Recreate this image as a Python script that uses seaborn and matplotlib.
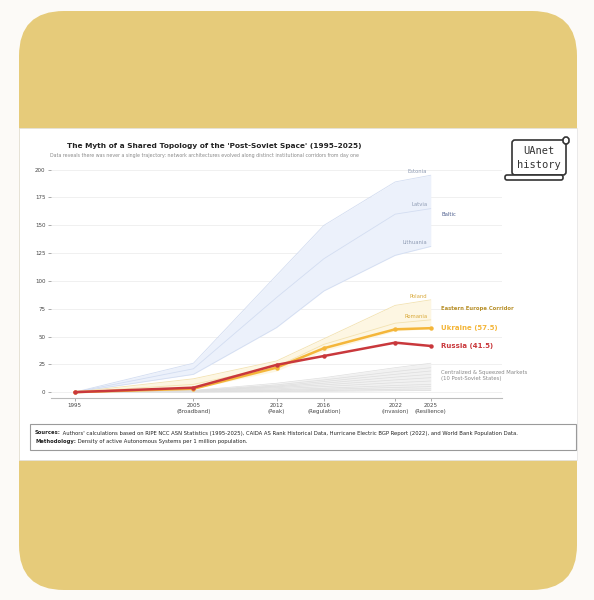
import matplotlib.pyplot as plt
from matplotlib.patches import FancyBboxPatch, Rectangle
import seaborn as sns
import numpy as np

# --- data ---
years = [1995, 2005, 2012, 2016, 2022, 2025]
tick_labels = ['1995', '2005\n(Broadband)', '2012\n(Peak)', '2016\n(Regulation)',
               '2022\n(Invasion)', '2025\n(Resilience)']

estonia = [0, 26, 105, 150, 189, 195]
latvia = [0, 21, 85, 120, 160, 165]
lithuania = [0, 16, 58, 91, 123, 131]

poland = [0, 12, 28, 48, 78, 83]
romania = [0, 7, 23, 43, 62, 65]
ee_lower = [0, 3, 19, 37, 55, 57]

ukraine = [0, 3, 22, 39.5, 56.5, 57.5]
russia = [0, 4, 24.5, 32.5, 44.5, 41.5]

squeezed_names = ['Moldova', 'Georgia', 'Armenia', 'Kazakhstan', 'Belarus',
                  'Azerbaijan', 'Kyrgyzstan', 'Uzbekistan', 'Tajikistan', 'Turkmenistan']
squeezed = [
    [0, 1.6, 8, 13, 22, 26],
    [0, 1.3, 6.5, 11, 18.5, 22],
    [0, 1.1, 5.5, 9.5, 16, 19],
    [0, 1.0, 4.8, 8, 13.5, 16],
    [0, 0.8, 4, 6.5, 11, 13],
    [0, 0.6, 3, 5, 8.5, 10],
    [0, 0.4, 2.1, 3.5, 6, 7],
    [0, 0.3, 1.5, 2.5, 4.2, 5],
    [0, 0.2, 0.9, 1.5, 2.6, 3],
    [0, 0.1, 0.5, 0.8, 1.3, 1.5],
]

BLUE_FILL = '#ECF1FB'
BLUE_LINE = '#D3DDF1'
BLUE_TXT = '#8E9BB3'
GOLD_FILL = '#FDF6E2'
GOLD_LINE = '#F3E2B0'
GOLD_TXT = '#D9A93A'
UKR = '#F4B63A'
RUS = '#C9383C'

sns.set_theme(style='whitegrid')
plt.rcParams['font.family'] = ['DejaVu Sans']

fig = plt.figure(figsize=(5.94, 6.0), dpi=100)
fig.patch.set_facecolor('#FCFAF7')

# background frame drawn in pixel coordinates
bg = fig.add_axes([0, 0, 1, 1], zorder=0)
bg.set_xlim(0, 594)
bg.set_ylim(600, 0)
bg.axis('off')
bg.add_patch(FancyBboxPatch((19, 11), 558, 579,
                            boxstyle='round,pad=0,rounding_size=45',
                            fc='#E6CB7A', ec='none'))
bg.add_patch(Rectangle((19, 128), 558, 332, fc='white', ec='#E2E2E2', lw=0.5))

# logo
bg.add_patch(FancyBboxPatch((512, 140), 54, 35, boxstyle='round,pad=0,rounding_size=3',
                            fc='white', ec='#333333', lw=1.2))
bg.add_patch(FancyBboxPatch((505, 175), 58, 5, boxstyle='round,pad=0,rounding_size=2',
                            fc='white', ec='#333333', lw=1.2))
bg.add_patch(FancyBboxPatch((563, 137), 6, 7, boxstyle='round,pad=0,rounding_size=3',
                            fc='white', ec='#333333', lw=1.2))
bg.text(539, 151, 'UAnet', ha='center', va='center', fontsize=7.5,
        family='DejaVu Sans Mono', color='#333333')
bg.text(539, 165, 'history', ha='center', va='center', fontsize=7.5,
        family='DejaVu Sans Mono', color='#333333')

# sources box
fs = 3.75
bg.add_patch(Rectangle((30, 424), 546, 26, fc='none', ec='#9A9A9A', lw=0.8))
t1 = bg.text(35, 433, 'Sources:', fontsize=fs, fontweight='bold', color='#222222', va='center')
bg.annotate(" Authors' calculations based on RIPE NCC ASN Statistics (1995-2025), CAIDA AS Rank "
            "Historical Data, Hurricane Electric BGP Report (2022), and World Bank Population Data.",
            xy=(1, 0), xycoords=t1, va='bottom', fontsize=fs, color='#222222')
t2 = bg.text(35, 441, 'Methodology:', fontsize=fs, fontweight='bold', color='#222222', va='center')
bg.annotate(' Density of active Autonomous Systems per 1 million population.',
            xy=(1, 0), xycoords=t2, va='bottom', fontsize=fs, color='#222222')

fig.text(214 / 594, 1 - 146 / 600,
         "The Myth of a Shared Topology of the 'Post-Soviet Space' (1995\u20132025)",
         ha='center', va='center', fontsize=5.3, fontweight='bold', color='#222222')
fig.text(205 / 594, 1 - 155.5 / 600,
         'Data reveals there was never a single trajectory: network architectures evolved '
         'along distinct institutional corridors from day one',
         ha='center', va='center', fontsize=3.4, color='#8A8A8A')

# main chart
ax = fig.add_axes([51 / 594, 202.3 / 600, 451 / 594, 233.6 / 600], zorder=1)
ax.set_facecolor('white')

# Baltic corridor
ax.fill_between(years, lithuania, estonia, color=BLUE_FILL, lw=0, zorder=1)
for s in (estonia, latvia, lithuania):
    sns.lineplot(x=years, y=s, ax=ax, color=BLUE_LINE, lw=0.6, zorder=2)

# Eastern Europe corridor
ax.fill_between(years, ee_lower, poland, color=GOLD_FILL, lw=0, zorder=1)
for s in (poland, romania):
    sns.lineplot(x=years, y=s, ax=ax, color=GOLD_LINE, lw=0.6, zorder=2)

# squeezed markets
sq = np.array(squeezed)
ax.fill_between(years, sq.min(axis=0), sq.max(axis=0), color='#F1F1F1', lw=0, zorder=1)
for name, s in zip(squeezed_names, squeezed):
    sns.lineplot(x=years, y=s, ax=ax, color='#DEDEDE', lw=0.5, zorder=2)

# highlighted countries
sns.lineplot(x=years, y=ukraine, ax=ax, color=UKR, lw=1.8, marker='o',
             markersize=3.2, markeredgewidth=0, zorder=4)
sns.lineplot(x=years, y=russia, ax=ax, color=RUS, lw=1.8, marker='o',
             markersize=3.2, markeredgewidth=0, zorder=5)

# labels on the right
lx = 2024.7
ax.text(lx, estonia[-1] + 1, 'Estonia', ha='right', va='bottom', fontsize=3.8, color=BLUE_TXT)
ax.text(lx, latvia[-1] + 1, 'Latvia', ha='right', va='bottom', fontsize=3.8, color=BLUE_TXT)
ax.text(lx, lithuania[-1] + 1, 'Lithuania', ha='right', va='bottom', fontsize=3.8, color=BLUE_TXT)
ax.text(2025.9, 160, 'Baltic', ha='left', va='center', fontsize=3.8, color='#4E5F8E')
ax.text(lx, poland[-1] + 1, 'Poland', ha='right', va='bottom', fontsize=3.8, color=GOLD_TXT)
ax.text(lx, romania[-1] + 1, 'Romania', ha='right', va='bottom', fontsize=3.8, color=GOLD_TXT)
ax.text(2025.9, 75, 'Eastern Europe Corridor', ha='left', va='center', fontsize=3.8,
        fontweight='bold', color='#B8902A')
ax.text(2025.9, ukraine[-1], f'Ukraine ({ukraine[-1]})', ha='left', va='center', fontsize=5,
        fontweight='bold', color=UKR)
ax.text(2025.9, russia[-1], f'Russia ({russia[-1]})', ha='left', va='center', fontsize=5,
        fontweight='bold', color=RUS)
ax.text(2025.9, 15, 'Centralized & Squeezed Markets\n(10 Post-Soviet States)', ha='left',
        va='center', fontsize=3.8, color='#8A8A8A', linespacing=1.1)

ax.set_xlim(1993, 2031)
ax.set_ylim(-5, 205)
ax.set_xticks(years)
ax.set_xticklabels(tick_labels)
ax.set_yticks(range(0, 201, 25))
ax.grid(axis='x', visible=False)
ax.grid(axis='y', color='#EEEEEE', lw=0.6)
ax.tick_params(axis='both', length=2, width=0.5, color='#888888', labelsize=4,
               labelcolor='#444444', pad=2, bottom=True, left=True)
for side in ('left', 'right', 'top'):
    ax.spines[side].set_visible(False)
ax.spines['bottom'].set_color('#BBBBBB')
ax.spines['bottom'].set_linewidth(0.8)
ax.set_xlabel('')
ax.set_ylabel('')

fig.savefig('out.png', dpi=100, facecolor=fig.get_facecolor())
